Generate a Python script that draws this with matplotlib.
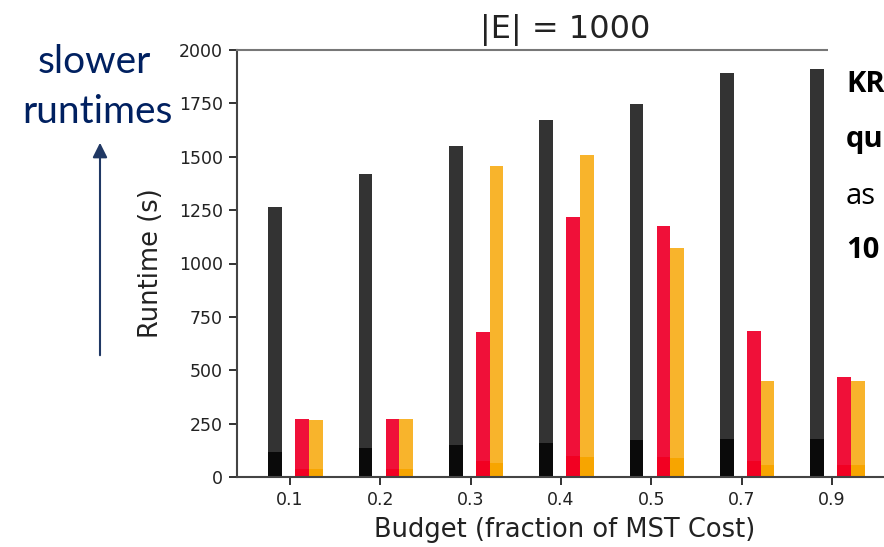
import matplotlib
matplotlib.use('Agg')
import matplotlib.pyplot as plt
import numpy as np
from matplotlib.patches import Rectangle, FancyArrowPatch

budgets = ['0.1', '0.2', '0.3', '0.4', '0.5', '0.7', '0.9']

# total runtime per method and the lower (overlapping) part of each bar
black_total = [1265, 1420, 1550, 1670, 1745, 1890, 1910]
black_base = [117, 138, 149, 160, 172, 180, 180]
red_total = [271, 271, 678, 1217, 1174, 686, 470]
red_base = [36, 36, 75, 97, 94, 75, 55]
orange_total = [266, 271, 1455, 1507, 1071, 450, 450]
orange_base = [36, 36, 66, 94, 91, 55, 55]

W, H = 884, 547
fig = plt.figure(figsize=(W / 100, H / 100), dpi=100)
fig.patch.set_facecolor('white')

# axes runs past the right edge of the picture (cropped slide)
ax = fig.add_axes([237 / W, 70 / H, (893 - 237) / W, (477 - 50) / H])

ind = np.arange(len(budgets))
bar_width = 0.15

ax.bar(ind - 0.165, black_total, bar_width, color='#333333')
ax.bar(ind - 0.165, black_base, bar_width, color='#0a0a0a')
ax.bar(ind + 0.135, red_total, bar_width, color='#f01039')
ax.bar(ind + 0.135, red_base, bar_width, color='#f20022')
ax.bar(ind + 0.285, orange_total, bar_width, color='#f8b42c')
ax.bar(ind + 0.285, orange_base, bar_width, color='#f7a500')

ax.set_xlim(-0.587, 6.675)
ax.set_ylim(0, 2000)
ax.set_yticks(np.arange(0, 2001, 250))
ax.set_xticks(ind)
ax.set_xticklabels(budgets)
ax.tick_params(labelsize=12.5, length=6, width=1.3, colors='#222222', pad=4)

for s in ['left', 'bottom', 'top', 'right']:
    ax.spines[s].set_color('#444444')
    ax.spines[s].set_linewidth(1.5)
ax.spines['top'].set_color('#777777')

ax.set_title('|E| = 1000', fontsize=23, color='#222222', pad=9)
ax.set_xlabel('Budget (fraction of MST Cost)', fontsize=18.5, color='#222222', labelpad=6)
ax.set_ylabel('Runtime (s)', fontsize=18.5, color='#222222', labelpad=11)

# slide annotation on the left
fig.text(94 / W, 1 - 62 / H, 'slower', family='Lato', fontsize=28,
         color='#002060', ha='center', va='center')
fig.text(97 / W, 1 - 112 / H, 'runtimes', family='Lato', fontsize=28,
         color='#002060', ha='center', va='center')
arrow = FancyArrowPatch((100 / W, 1 - 358 / H), (100 / W, 1 - 140 / H),
                        transform=fig.transFigure, arrowstyle='-|>',
                        mutation_scale=22, lw=1.5, color='#203864')
fig.patches.append(arrow)

# text box of the slide covering the right part of the chart
fig.patches.append(Rectangle((828 / W, 1 - 330 / H), 60 / W, 330 / H,
                             transform=fig.transFigure, facecolor='white',
                             edgecolor='none', zorder=2))
right_lines = [('KR', 'bold', 84), ('qu', 'bold', 140), ('as', 'normal', 196), ('10', 'bold', 250)]
for txt, wt, yy in right_lines:
    fig.text(846 / W, 1 - yy / H, txt, family='Open Sans', fontsize=21,
             fontweight=wt, color='black', ha='left', va='center', zorder=3)

fig.savefig('out.png', dpi=100)
